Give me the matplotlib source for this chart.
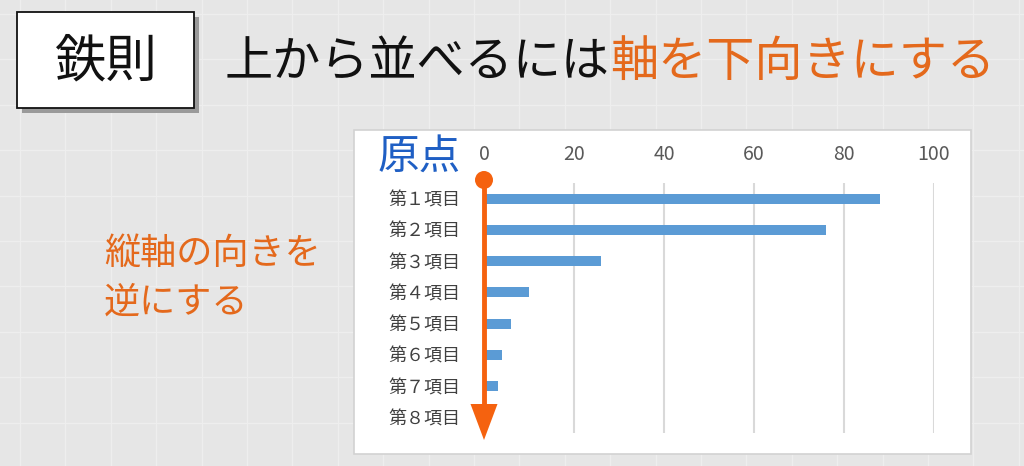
import matplotlib
matplotlib.use('Agg')
import matplotlib.pyplot as plt
from matplotlib.patches import Rectangle, Polygon, Circle
from matplotlib.lines import Line2D

plt.rcParams['font.family'] = ['Noto Sans CJK JP', 'DejaVu Sans']

# データ
items = ['第１項目', '第２項目', '第３項目', '第４項目',
         '第５項目', '第６項目', '第７項目', '第８項目']
values = [88, 76, 26, 10, 6, 4, 3, 1]
x_ticks = [0, 20, 40, 60, 80, 100]

title_black = '上から並べるには'
title_orange = '軸を下向きにする'
note_lines = ['縦軸の向きを', '逆にする']

BG = '#e6e6e6'
ORANGE_TXT = '#e4691c'
ORANGE_ARROW = '#f5620f'
BLUE = '#5b9bd5'

W, H = 1024, 466
fig = plt.figure(figsize=(W / 100, H / 100), dpi=100, facecolor=BG)

# 背景（方眼）
bg = fig.add_axes([0, 0, 1, 1], zorder=0)
bg.set_xlim(0, W)
bg.set_ylim(H, 0)
bg.axis('off')
gx = 20
while gx < W:
    bg.add_line(Line2D([gx, gx], [0, H], color='#eeeeee', lw=0.9, zorder=1))
    gx += 45.4
gy = 14
while gy < H:
    bg.add_line(Line2D([0, W], [gy, gy], color='#eeeeee', lw=0.9, zorder=1))
    gy += 45.4

# グラフ領域の白いパネル
bg.add_patch(Rectangle((354, 130), 617, 324, facecolor='white',
                       edgecolor='#d2d2d2', lw=1.2, zorder=2))

# 「鉄則」ボックス
bg.add_patch(Rectangle((22, 17), 177, 96, facecolor='#9a9a9a', lw=0, zorder=2))
bg.add_patch(Rectangle((17, 12), 177, 96, facecolor='white',
                       edgecolor='#111111', lw=1.3, zorder=2.5))
bg.text(106, 62, '鉄則', fontsize=37, ha='center', va='center',
        color='#111111', zorder=3)

# タイトル
t1 = bg.text(225, 62, title_black, fontsize=34.7, ha='left', va='center',
             color='#111111', zorder=3)
bg.annotate(title_orange, xy=(1, 0), xycoords=t1, ha='left', va='bottom',
            fontsize=34.7, color=ORANGE_TXT, zorder=3)

# 左の説明文
bg.text(104, 254, note_lines[0], fontsize=26, ha='left', va='center',
        color=ORANGE_TXT, zorder=3)
bg.text(104, 303, note_lines[1], fontsize=26, ha='left', va='center',
        color=ORANGE_TXT, zorder=3)

# 棒グラフ
ax = fig.add_axes([484 / W, 1 - 433 / H, 450 / W, 250 / H], zorder=2)
ax.set_facecolor('none')
pos = list(range(len(items)))
ax.barh(pos, values, height=0.32, color=BLUE, zorder=3)
ax.set_xlim(0, 100)
ax.set_ylim(len(items) - 0.5, -0.5)
ax.set_yticks(pos)
ax.set_yticklabels(items, fontsize=13, color='#404040')
ax.set_xticks(x_ticks)
ax.set_xticklabels([str(v) for v in x_ticks], fontsize=14, color='#595959')
ax.xaxis.tick_top()
ax.tick_params(axis='both', length=0)
ax.tick_params(axis='x', pad=13)
ax.tick_params(axis='y', pad=17)
ax.grid(axis='x', color='#d9d9d9', lw=1.5, zorder=0)
for s in ax.spines.values():
    s.set_visible(False)

# 矢印と「原点」
fg = fig.add_axes([0, 0, 1, 1], zorder=5)
fg.set_xlim(0, W)
fg.set_ylim(H, 0)
fg.axis('off')
fg.patch.set_alpha(0)
fg.add_line(Line2D([484, 484], [180, 408], color=ORANGE_ARROW, lw=3.5,
                   solid_capstyle='butt'))
fg.add_patch(Polygon([(470.5, 404), (497.5, 404), (484, 440)],
                     closed=True, facecolor=ORANGE_ARROW, lw=0))
fg.add_patch(Circle((484, 180), 9, facecolor=ORANGE_ARROW, lw=0))
fg.text(461, 157, '原点', fontsize=30, ha='right', va='center', color='#1f5fc4')

fig.savefig('out.png', dpi=100, facecolor=BG)
